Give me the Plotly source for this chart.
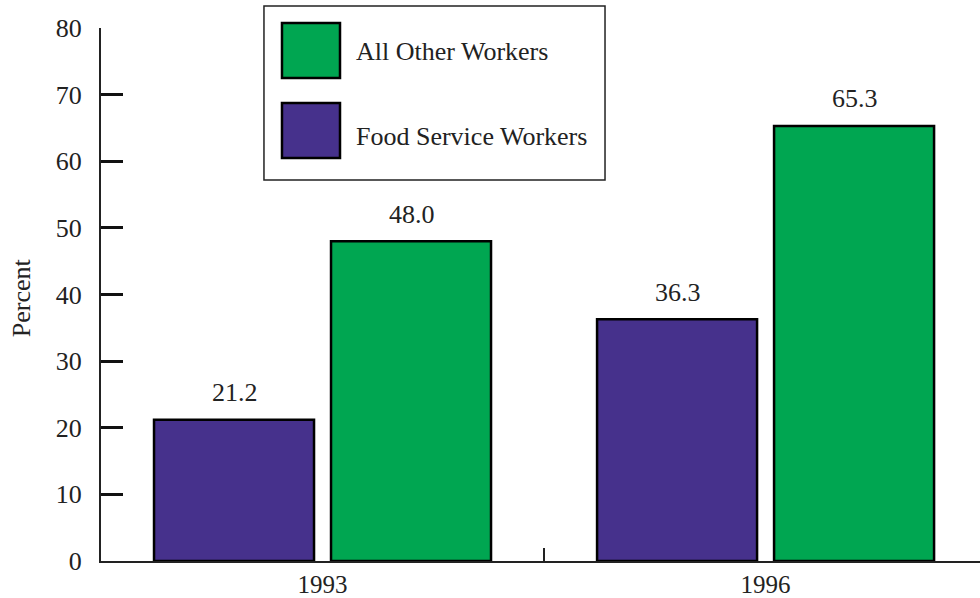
import plotly.graph_objects as go

years = ["1993", "1996"]
food_service = [21.2, 36.3]
all_other = [48.0, 65.3]
series_names = ["Food Service Workers", "All Other Workers"]
y_ticks = [0, 10, 20, 30, 40, 50, 60, 70, 80]

PURPLE = "#46318C"
GREEN = "#00A651"
FONT = "Liberation Serif"
TXT = "#222"
FS = 26

fig = go.Figure()
fig.add_trace(go.Bar(x=years, y=food_service, name=series_names[0],
                     marker=dict(color=PURPLE, line=dict(color="black", width=2.5)),
                     showlegend=False))
fig.add_trace(go.Bar(x=years, y=all_other, name=series_names[1],
                     marker=dict(color=GREEN, line=dict(color="black", width=2.5)),
                     showlegend=False))

# value labels (x given as category index)
for vals, shift in ((food_service, -88), (all_other, 89)):
    for i, v in enumerate(vals):
        fig.add_annotation(x=i, y=v, xref="x", yref="y", text=f"{v:.1f}", showarrow=False,
                           xshift=shift, yshift=27, yanchor="middle",
                           font=dict(family=FONT, size=FS, color=TXT))

# custom legend
fig.add_shape(type="rect", xref="paper", yref="paper",
              x0=0.1854, x1=0.5734, y0=0.7148, y1=1.0413,
              line=dict(color=TXT, width=1.5), fillcolor="white", layer="below")
for (y0, y1, col, name, ty) in ((0.9062, 1.0094, GREEN, series_names[1], 0.955),
                                (0.7561, 0.8593, PURPLE, series_names[0], 0.7955)):
    fig.add_shape(type="rect", xref="paper", yref="paper",
                  x0=0.2059, x1=0.2719, y0=y0, y1=y1,
                  line=dict(color="black", width=2.5), fillcolor=col)
    fig.add_annotation(xref="paper", yref="paper", x=0.2878, y=ty, text=name,
                       showarrow=False, xanchor="left", yanchor="middle",
                       font=dict(family=FONT, size=FS, color=TXT))

# y-axis title
fig.add_annotation(xref="paper", yref="paper", x=-0.091, y=0.493, text="Percent",
                   showarrow=False, textangle=-90, xanchor="center", yanchor="middle",
                   font=dict(family=FONT, size=FS, color=TXT))

fig.update_layout(
    width=980, height=598,
    margin=dict(l=101, r=0, t=28, b=37),
    paper_bgcolor="white", plot_bgcolor="white",
    barmode="group", bargap=0.201, bargroupgap=0.096,
    font=dict(family=FONT, size=FS, color=TXT),
    xaxis=dict(type="category", range=[-0.5, 1.484], showline=True, linecolor=TXT, linewidth=2,
               ticks="inside", tickson="boundaries", ticklen=13, tickwidth=2,
               tickcolor=TXT, showgrid=False, zeroline=False,
               tickfont=dict(family=FONT, size=25, color=TXT)),
    yaxis=dict(range=[0, 80], tickvals=y_ticks, showline=True, linecolor=TXT,
               linewidth=2, ticks="inside", ticklen=22, tickwidth=2.5, tickcolor="#111",
               showgrid=False, zeroline=False, ticklabelstandoff=12,
               tickfont=dict(family=FONT, size=FS, color=TXT)),
)

fig.write_html("out.html", config={"displayModeBar": False},
               post_script="document.body.style.margin='0';")
